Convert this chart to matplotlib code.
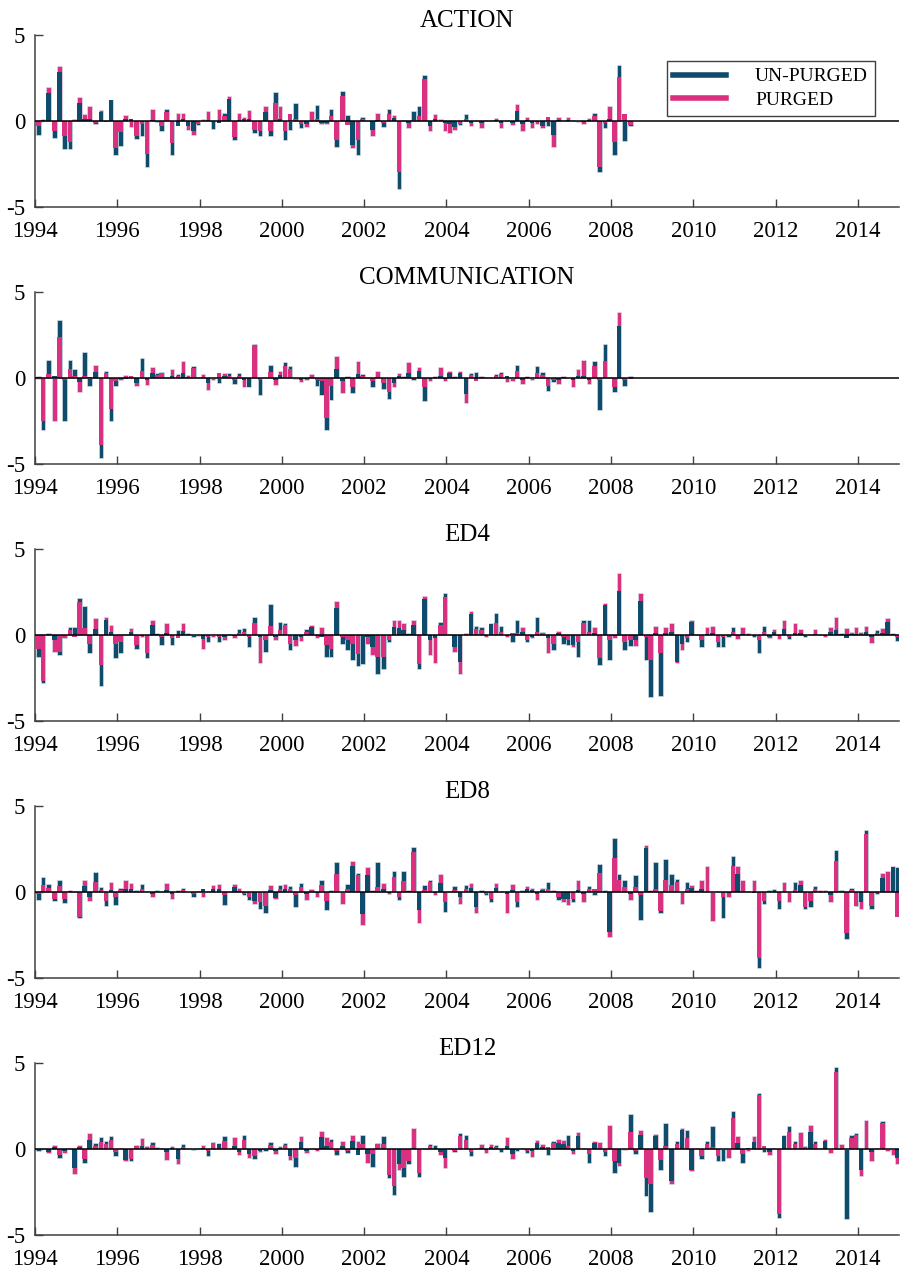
import numpy as np
import matplotlib
matplotlib.use("Agg")
import matplotlib.pyplot as plt
from matplotlib.lines import Line2D

plt.rcParams['font.family'] = ['Liberation Serif', 'DejaVu Serif']
plt.rcParams['axes.unicode_minus'] = False

# meeting dates: 8 per year, 1994-2014
years = np.arange(1994, 2015)
meeting_frac = [0.08, 0.2, 0.33, 0.47, 0.6, 0.72, 0.85, 0.96]

titles = ['ACTION', 'COMMUNICATION', 'ED4', 'ED8', 'ED12']
legend_labels = ['UN-PURGED', 'PURGED']
year_ticks = list(range(1994, 2015, 2))

# columns: un-purged, purged
action = np.array([
    [-0.8, -0.3], [0.05, 0.1], [1.6, 2.0], [-1.0, -0.6], [2.85, 3.2], [-1.65, -0.9], [-1.65, -1.2], [0.1, 0.05],
    [1.05, 1.4], [0.1, 0.4], [0.1, 0.9], [-0.2, -0.1], [0.5, 0.65], [0.05, -0.05], [1.2, 1.25], [-2.0, -1.55],
    [-1.47, -0.65], [0.1, 0.35], [0.1, -0.35], [-1.05, -0.85], [-0.85, -0.2], [-2.65, -1.9], [0.05, 0.72], [-0.05, -0.05],
    [-0.6, -0.3], [0.72, 0.5], [-2.0, -1.3], [-0.3, 0.45], [0.1, 0.45], [-0.3, -0.5], [-0.6, -0.8], [-0.25, -0.15],
    [0.0, 0.1], [0.05, 0.6], [-0.45, -0.05], [-0.1, 0.72], [0.45, 0.3], [1.27, 1.43], [-1.1, -0.95], [0.05, 0.45],
    [0.1, 0.25], [0.1, 0.65], [-0.68, -0.5], [-0.85, -0.6], [0.5, 0.85], [-0.85, -0.6], [1.67, 1.04], [0.1, 0.85],
    [-1.08, -0.6], [-0.5, 0.4], [1.04, 0.1], [-0.4, -0.2], [-0.2, -0.33], [0.0, 0.6], [0.95, 0.1], [-0.1, -0.15],
    [-0.1, -0.15], [0.7, 0.3], [-1.5, -1.1], [1.76, 1.47], [0.33, -0.25], [-1.4, -1.57], [-2.0, -1.1], [0.25, 0.1],
    [0.0, 0.05], [-0.5, -0.88], [0.05, 0.45], [-0.33, -0.1], [0.69, 0.4], [0.2, 0.33], [-3.98, -2.94], [0.05, 0.0],
    [-0.1, -0.4], [0.59, 0.05], [0.88, 0.3], [2.65, 2.45], [-0.3, -0.6], [0.1, 0.4], [0.0, 0.1], [-0.1, -0.6],
    [-0.2, -0.7], [-0.35, -0.5], [-0.25, -0.2], [0.4, 0.1], [-0.1, -0.3], [0.0, 0.05], [-0.1, -0.4], [0.0, 0.05],
    [0.0, 0.05], [0.05, 0.18], [-0.1, -0.4], [0.0, 0.05], [-0.1, -0.25], [0.6, 1.0], [-0.2, -0.6], [0.05, 0.25],
    [-0.1, -0.4], [-0.05, -0.15], [-0.3, -0.4], [-0.3, 0.25], [-0.8, -1.5], [0.05, 0.25], [0.0, 0.05], [0.05, 0.25],
    [0.0, 0.05], [0.0, -0.05], [-0.05, -0.2], [0.05, 0.2], [0.45, 0.3], [-2.94, -2.65], [-0.4, -0.1], [0.1, 0.88],
    [-2.0, -1.2], [3.27, 2.55], [-1.18, 0.4], [-0.3, -0.25],
])

communication = np.array([
    [0.05, 0.14], [-3.0, -2.5], [1.07, 0.23], [0.1, -2.5], [3.4, 2.37], [-2.5, -0.1], [1.07, 0.5], [0.5, 0.1],
    [-0.25, -0.8], [1.5, 0.1], [-0.45, 0.05], [0.37, 0.78], [-4.63, -3.9], [0.43, 0.3], [-2.5, -1.8], [-0.45, -0.2],
    [-0.05, -0.1], [-0.05, 0.18], [0.13, 0.1], [-0.3, -0.45], [1.15, 0.43], [-0.1, -0.4], [0.3, 0.62], [0.3, 0.2],
    [0.37, 0.3], [0.02, 0.05], [0.1, 0.53], [0.23, 0.1], [0.3, 1.0], [0.05, 0.15], [0.72, 0.6], [0.02, 0.05],
    [0.05, 0.23], [-0.3, -0.68], [-0.02, -0.1], [-0.3, 0.3], [0.1, 0.3], [0.3, 0.1], [-0.35, -0.1], [0.3, 0.1],
    [-0.1, -0.55], [-0.5, -0.55], [2.0, 1.93], [-1.0, -0.1], [0.02, 0.05], [0.78, 0.37], [-0.1, -0.4], [0.2, 0.43],
    [0.95, 0.72], [0.72, 0.5], [0.0, -0.05], [-0.1, -0.25], [-0.05, -0.1], [0.05, 0.23], [-0.45, -0.1], [-1.0, -0.2],
    [-3.0, -2.3], [-1.3, -0.45], [0.5, 1.27], [-0.2, -0.85], [0.05, 0.1], [-0.85, -0.5], [0.23, 1.0], [0.23, 0.1],
    [0.0, 0.05], [-0.55, -0.2], [0.05, 0.43], [-0.65, -0.3], [-1.23, -0.8], [-0.3, -0.5], [0.1, 0.3], [0.05, 0.1],
    [0.3, 0.92], [-0.1, -0.05], [0.43, 0.66], [-1.35, -0.5], [-0.05, -0.2], [0.05, 0.1], [0.1, 0.66], [-0.05, -0.2],
    [0.3, 0.43], [0.05, 0.1], [0.3, 0.43], [-0.95, -1.45], [0.3, 0.2], [0.37, -0.15], [0.05, 0.1], [0.0, 0.05],
    [0.02, 0.05], [0.23, 0.1], [0.37, 0.25], [0.1, -0.25], [0.0, -0.15], [0.78, 0.43], [-0.1, -0.35], [0.05, 0.13],
    [0.0, -0.1], [0.72, 0.3], [0.37, 0.2], [-0.73, -0.45], [-0.25, -0.1], [-0.1, -0.35], [0.05, 0.1], [0.0, 0.02],
    [-0.1, -0.55], [0.1, 0.53], [0.14, 1.07], [-0.1, -0.35], [1.0, 0.72], [-1.85, -0.1], [2.0, 1.0], [0.02, 0.05],
    [-0.8, -0.5], [3.05, 3.83], [-0.45, -0.1], [0.1, -0.05],
])

ed4 = np.array([
    [-1.3, -0.8], [-2.8, -2.7], [0.05, 0.1], [-0.3, -1.0], [-1.17, -1.0], [-0.2, -0.15], [0.48, 0.3], [0.48, -0.1],
    [2.14, 1.9], [1.7, 0.4], [-1.07, -0.5], [0.33, 0.97], [-2.96, -1.75], [0.87, 1.03], [0.2, 0.58], [-1.36, -0.5],
    [-1.07, -0.4], [0.05, 0.02], [0.2, 0.4], [-0.84, -0.6], [-0.05, -0.1], [-1.36, -1.07], [0.58, 0.88], [0.05, 0.1],
    [-0.58, -0.1], [0.1, 0.72], [-0.58, -0.2], [0.3, -0.15], [0.25, 0.68], [0.05, 0.1], [-0.1, 0.0], [0.02, -0.05],
    [-0.25, -0.8], [-0.4, -0.1], [-0.02, -0.1], [-0.4, -0.1], [-0.1, -0.3], [0.05, 0.02], [-0.05, -0.15], [0.33, 0.1],
    [0.4, 0.2], [-0.68, -0.1], [1.03, 0.68], [-0.1, -1.62], [-1.0, -0.3], [1.81, 0.53], [-0.1, -0.3], [0.78, 0.3],
    [0.68, 0.58], [-0.88, -0.5], [-0.3, -0.64], [-0.1, -0.33], [0.33, 0.2], [0.45, 0.58], [-0.05, -0.2], [-0.1, 0.45],
    [-1.3, -0.6], [-1.27, -0.8], [1.56, 2.0], [-0.52, -0.1], [-0.88, -0.3], [-1.46, -0.5], [-1.8, -1.1], [-1.7, -0.05],
    [-0.1, -0.5], [-0.68, -1.17], [-2.24, -1.3], [-1.95, -1.27], [-0.4, -0.3], [0.48, 0.88], [0.4, 0.9], [0.3, 0.68],
    [0.05, 0.1], [0.58, 0.88], [-1.95, -1.7], [2.08, 2.28], [-0.3, -1.17], [-0.2, -1.62], [0.78, 0.58], [2.43, 2.2],
    [0.05, 0.02], [-0.68, -0.97], [-1.56, -2.24], [0.1, 0.05], [1.25, 1.4], [0.53, 0.33], [0.45, 0.3], [-0.05, -0.1],
    [0.64, 0.72], [1.3, 0.68], [0.53, 0.2], [-0.05, -0.14], [-0.4, 0.1], [0.88, 0.1], [0.2, 0.45], [-0.4, -0.3],
    [-0.1, -0.2], [1.07, 0.2], [0.2, 0.1], [-0.2, -1.03], [-0.88, -0.5], [0.1, 0.25], [-0.52, -0.1], [-0.58, -0.3],
    [-0.58, -0.72], [-1.27, -0.4], [0.88, 0.68], [0.88, 0.2], [0.1, 0.45], [-1.75, -1.36], [1.75, 1.85], [-1.46, -0.3],
    [-0.05, -0.2], [2.53, 3.6], [-0.88, -0.4], [-0.64, -0.3], [-0.3, -0.64], [2.0, 2.43], [-1.46, -0.1], [-3.6, -1.46],
    [0.1, 0.53], [-3.56, -1.07], [0.1, 0.45], [0.2, 0.68], [-1.56, -1.65], [-0.5, -0.88], [-0.4, -0.2], [0.78, 0.88],
    [0.05, 0.02], [-0.68, -0.3], [0.05, 0.45], [0.1, 0.53], [-0.68, -0.4], [-0.68, -0.1], [-0.14, -0.05], [0.45, 0.2],
    [-0.05, -0.25], [0.05, 0.45], [0.1, 0.05], [-0.1, -0.05], [-1.07, -0.3], [0.53, 0.2], [-0.14, -0.2], [0.2, 0.33],
    [-0.05, -0.25], [0.33, 0.88], [-0.25, -0.1], [0.1, 0.68], [0.1, 0.33], [-0.14, -0.05], [0.02, 0.05], [0.05, 0.33],
    [0.02, 0.05], [-0.05, -0.14], [0.2, 0.45], [0.3, 1.07], [0.05, 0.1], [-0.2, 0.4], [0.05, 0.2], [0.05, 0.45],
    [0.2, 0.1], [0.2, 0.53], [-0.1, -0.45], [0.3, 0.1], [0.1, 0.4], [0.78, 0.97], [0.05, 0.1], [-0.33, -0.1],
])

ed8 = np.array([
    [-0.45, -0.1], [0.9, 0.38], [0.44, 0.25], [-0.52, -0.4], [0.71, 0.33], [-0.63, -0.4], [0.05, 0.1], [0.02, 0.05],
    [-1.54, -1.45], [0.33, 0.71], [-0.3, -0.5], [1.15, 0.58], [0.29, 0.1], [-0.83, -0.5], [0.1, 0.58], [-0.77, -0.3],
    [0.25, 0.1], [0.2, 0.71], [0.2, 0.52], [0.1, 0.05], [0.44, 0.2], [0.02, 0.05], [-0.1, -0.29], [0.13, 0.05],
    [0.02, 0.05], [0.1, 0.52], [-0.1, -0.38], [0.05, 0.13], [0.25, 0.1], [0.02, -0.02], [-0.29, -0.1], [0.02, 0.05],
    [0.19, -0.3], [0.02, 0.05], [0.2, 0.38], [0.2, 0.44], [-0.77, -0.2], [0.02, 0.05], [0.3, 0.44], [0.05, 0.25],
    [-0.2, -0.1], [-0.45, -0.3], [-0.5, -0.67], [-0.96, -0.6], [-1.21, -0.8], [0.1, 0.38], [-0.35, -0.4], [0.38, 0.2],
    [0.2, 0.48], [0.33, 0.2], [-0.87, -0.2], [0.52, 0.3], [-0.1, -0.48], [0.2, 0.1], [-0.05, -0.3], [0.71, 0.38],
    [-1.06, -0.5], [0.13, 0.05], [1.73, 1.06], [0.0, -0.67], [0.44, 0.2], [1.54, 1.83], [1.1, 0.96], [-1.25, -1.92],
    [1.0, 1.48], [0.05, 0.1], [1.73, 0.3], [0.2, 0.52], [-0.05, -0.13], [1.25, 0.87], [-0.45, -0.3], [1.25, 0.62],
    [0.05, 0.1], [2.6, 2.3], [-1.05, -1.79], [0.38, 0.1], [0.67, 0.58], [-0.05, -0.15], [0.52, 1.06], [-1.15, -0.6],
    [0.05, 0.02], [0.33, 0.1], [-0.3, -0.67], [0.38, 0.2], [0.25, 0.52], [-0.9, -1.21], [0.13, 0.0], [-0.2, -0.1],
    [-0.58, -0.4], [0.25, 0.52], [0.02, 0.05], [-0.1, -1.21], [0.1, 0.44], [-0.87, -0.6], [0.13, 0.05], [0.2, 0.33],
    [0.1, 0.25], [-0.1, -0.44], [0.1, 0.25], [0.58, 0.2], [0.05, 0.1], [-0.44, -0.3], [-0.4, -0.58], [-0.4, -0.77],
    [-0.58, -0.4], [0.1, 0.67], [-0.1, -0.58], [0.33, 0.2], [-0.2, 0.19], [1.6, 1.1], [0.13, 0.05], [-2.31, -2.6],
    [3.13, 1.98], [1.06, 0.67], [0.67, 0.3], [-0.1, -0.44], [0.96, 0.3], [-1.6, -0.2], [2.55, 2.75], [0.05, 0.1],
    [1.73, 0.2], [-1.21, -1.1], [1.92, 0.71], [1.06, 0.38], [0.77, 0.58], [0.0, -0.67], [0.58, 0.2], [0.25, 0.38],
    [0.05, 0.1], [0.2, 0.71], [0.0, 1.54], [0.0, -1.67], [0.02, 0.05], [-1.54, -0.3], [-0.05, -0.29], [2.12, 1.54],
    [1.06, 1.54], [0.0, 0.67], [0.02, 0.05], [-0.05, 0.67], [-4.4, -3.85], [-0.67, -0.5], [0.13, 0.05], [0.19, 0.0],
    [-0.96, -0.5], [0.0, 0.58], [0.0, -0.58], [0.58, 0.1], [0.38, 0.67], [-0.96, -0.9], [-0.87, -0.5], [0.33, 0.2],
    [0.0, 0.1], [0.0, 0.13], [-0.2, -0.58], [2.44, 1.83], [0.1, 0.05], [-2.75, -2.4], [0.25, 0.1], [-0.83, -0.8],
    [-0.58, -0.96], [3.6, 3.35], [-0.96, -0.8], [-0.1, -0.05], [0.83, 1.1], [0.0, 1.25], [1.44, 1.54], [1.44, -1.44],
])

ed12 = np.array([
    [-0.1, -0.05], [0.02, 0.05], [-0.15, -0.23], [0.1, 0.25], [-0.52, -0.33], [-0.1, -0.23], [0.02, 0.05], [-1.1, -1.48],
    [0.1, 0.25], [-0.8, -0.6], [0.54, 0.92], [0.35, 0.2], [0.67, 0.4], [0.48, 0.3], [0.73, 0.54], [-0.42, -0.2],
    [0.02, 0.05], [-0.65, -0.71], [-0.71, -0.6], [0.25, 0.2], [0.2, 0.63], [0.2, 0.1], [0.4, 0.25], [0.05, 0.1],
    [0.02, 0.05], [-0.2, -0.62], [0.05, 0.15], [-0.6, -0.9], [0.29, 0.1], [0.02, 0.05], [-0.05, -0.02], [0.02, 0.05],
    [0.05, 0.25], [-0.38, -0.1], [0.4, 0.35], [0.29, 0.35], [0.73, 0.48], [0.02, 0.05], [0.2, 0.67], [-0.2, -0.37],
    [0.79, 0.54], [-0.3, -0.52], [-0.56, -0.4], [-0.1, -0.17], [-0.13, -0.05], [0.4, 0.25], [-0.1, -0.29], [0.05, 0.15],
    [0.35, 0.25], [-0.4, -0.62], [-1.06, -0.5], [0.4, 0.73], [-0.1, -0.23], [0.02, 0.05], [-0.05, -0.13], [0.67, 1.06],
    [0.2, 0.67], [0.6, 0.4], [-0.37, -0.1], [0.2, 0.48], [-0.23, -0.1], [0.48, 0.83], [-0.33, 0.44], [0.83, 0.3],
    [-0.3, -0.8], [-1.06, -0.3], [0.35, 0.29], [0.73, 0.3], [-1.7, -1.5], [-2.67, -2.15], [-0.9, -1.2], [-1.63, -1.1],
    [-0.9, -0.67], [0.05, 1.25], [-1.63, -1.4], [0.02, 0.05], [0.29, 0.2], [0.25, 0.0], [-0.2, -0.37], [-0.5, -1.1],
    [0.02, 0.05], [-0.17, -0.1], [0.92, 0.73], [0.83, 0.5], [-0.42, -0.2], [0.02, 0.05], [0.05, 0.29], [-0.05, -0.23],
    [0.1, 0.29], [0.25, 0.1], [-0.17, -0.05], [0.2, 0.67], [-0.3, -0.56], [-0.13, -0.05], [0.02, 0.05], [-0.23, -0.1],
    [-0.1, -0.48], [0.35, 0.54], [0.1, 0.29], [-0.33, 0.1], [0.48, 0.35], [0.35, 0.6], [0.29, 0.54], [0.83, 0.2],
    [-0.1, -0.29], [0.73, 0.98], [0.02, 0.05], [-0.8, -0.3], [0.35, 0.44], [0.0, 0.4], [-0.42, -0.2], [0.0, 1.37],
    [-1.38, -0.71], [-0.8, -1.0], [0.02, -0.05], [2.02, 0.98], [-0.29, -0.1], [0.83, 1.12], [-2.73, -1.67], [-3.69, -2.05],
    [0.73, 0.88], [-1.2, -0.62], [1.5, 0.15], [-1.87, -2.05], [0.48, 0.3], [1.12, 1.25], [1.12, 0.63], [-1.2, -1.3],
    [0.02, 0.05], [-0.56, -0.4], [0.48, 0.3], [1.31, 0.1], [-0.67, -0.4], [-0.71, 0.0], [0.0, -0.52], [2.21, 1.83],
    [0.35, 0.73], [-0.8, -0.3], [0.05, -0.1], [0.4, 0.73], [3.27, 3.15], [-0.17, 0.15], [-0.2, -0.33], [0.02, 0.05],
    [-4.0, -3.8], [0.73, 0.83], [1.31, 0.98], [0.48, 0.3], [0.0, 0.98], [0.2, 0.1], [0.98, 1.37], [0.48, 0.3],
    [0.02, 0.05], [0.44, 0.6], [0.0, -0.23], [4.77, 4.48], [0.0, 0.29], [-4.08, 0.0], [0.79, 0.63], [0.92, 0.83],
    [-1.2, -1.58], [0.0, 1.69], [-0.2, -0.67], [0.02, 0.05], [1.63, 1.5], [0.0, -0.13], [0.0, -0.33], [-0.52, -0.9],
])

DARK = '#0f4c6b'
PINK = '#d9317f'

dates = (years[:, None] + np.array(meeting_frac)[None, :]).ravel()

fig = plt.figure(figsize=(9.01, 12.72), dpi=100)
W, H = 901.0, 1272.0
tops = [35, 292, 549, 806, 1063]
ph = 172

panels = [action, communication, ed4, ed8, ed12]
for i, (name, vals) in enumerate(zip(titles, panels)):
    ax = fig.add_axes([35 / W, 1 - (tops[i] + ph) / H, 864 / W, ph / H])
    x = dates[:len(vals)]
    u, p = vals[:, 0], vals[:, 1]
    # the larger bar sits behind, the smaller one in front
    u_back = np.abs(u) >= np.abs(p)
    back = np.where(u_back, u, p)
    front = np.where(u_back, p, u)
    ax.bar(x, back, width=0.11, color=np.where(u_back, DARK, PINK),
           edgecolor='#dbe8f0', linewidth=0.4, zorder=2)
    ax.bar(x, front, width=0.11, color=np.where(u_back, PINK, DARK),
           linewidth=0, zorder=3)
    ax.axhline(0, color='black', lw=1.1, zorder=4)

    ax.set_xlim(1994, 2015)
    ax.set_ylim(-5, 5)
    ax.set_xticks(year_ticks)
    ax.set_yticks([-5, 0, 5])
    ax.set_yticklabels(['-5', '0', '5'])
    for s in ['top', 'right']:
        ax.spines[s].set_visible(False)
    for s in ['left', 'bottom']:
        ax.spines[s].set_color('#404040')
        ax.spines[s].set_linewidth(1.1)
    ax.tick_params(direction='in', length=6, width=1, color='#404040',
                   labelsize=16.5, labelcolor='black')
    ax.tick_params(axis='x', pad=10)
    ax.tick_params(axis='y', pad=7)
    ax.set_title(name, fontsize=18, pad=6)

    if i == 0:
        handles = [Line2D([0], [0], color=DARK, lw=4),
                   Line2D([0], [0], color=PINK, lw=4)]
        leg = ax.legend(handles, legend_labels, loc='upper right',
                        bbox_to_anchor=(0.972, 0.849), fontsize=14,
                        handlelength=2.7, handletextpad=1.5,
                        fancybox=False, edgecolor='#404040', framealpha=1,
                        borderaxespad=0, labelspacing=0.3, borderpad=0.35)
        leg.get_frame().set_linewidth(1.0)

fig.savefig('out.png', dpi=100)
